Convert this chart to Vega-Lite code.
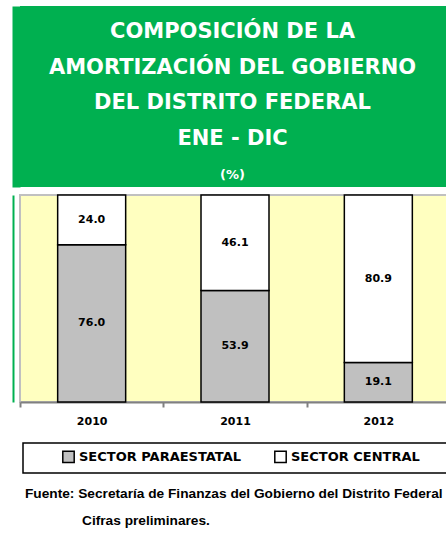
{
  "$schema": "https://vega.github.io/schema/vega-lite/v6.json",
  "padding": {"left": 12, "top": 6, "right": 0, "bottom": 0},
  "background": "white",
  "config": {"font": "DejaVu Sans", "view": {"stroke": null}, "legend": {"strokeWidth": 1.5}},
  "title": {
    "text": "Fuente: Secretaría de Finanzas del Gobierno del Distrito Federal",
    "subtitle": "\u200b\u00a0\u00a0\u00a0\u00a0\u00a0\u00a0\u00a0\u00a0\u00a0\u00a0\u00a0\u00a0\u00a0\u00a0\u00a0Cifras preliminares.",
    "orient": "bottom",
    "anchor": "start",
    "frame": "bounds",
    "dx": 13,
    "offset": 13,
    "font": "Liberation Sans",
    "fontSize": 13.7,
    "fontWeight": "bold",
    "color": "black",
    "subtitleFont": "Liberation Sans",
    "subtitleFontSize": 13.7,
    "subtitleFontWeight": "bold",
    "subtitleColor": "black",
    "subtitlePadding": 14
  },
  "spacing": 6,
  "vconcat": [
    {
      "width": 433,
      "height": 181,
      "view": {"fill": "#00B050", "stroke": null},
      "data": {
        "values": [
          {"line": 1, "text": "COMPOSICIÓN DE LA"},
          {"line": 2, "text": "AMORTIZACIÓN DEL GOBIERNO"},
          {"line": 3, "text": "DEL DISTRITO FEDERAL"},
          {"line": 4, "text": "ENE - DIC"},
          {"line": 5, "text": "(%)"}
        ]
      },
      "encoding": {
        "y": {
          "field": "line", "type": "ordinal",
          "scale": {"type": "point", "padding": 0.531, "align": 0.684},
          "axis": {"title": null, "labels": false, "ticks": false, "grid": false, "domain": true, "domainColor": "#00B050", "domainWidth": 8, "offset": 4}
        },
        "text": {"field": "text", "type": "nominal"}
      },
      "layer": [
        {
          "transform": [{"filter": {"field": "line", "lt": 5}}],
          "mark": {"type": "text", "font": "DejaVu Sans", "fontWeight": "bold", "fontSize": 21, "color": "white", "baseline": "middle", "align": "center", "dx": -4}
        },
        {
          "transform": [{"filter": {"field": "line", "equal": 5}}],
          "mark": {"type": "text", "font": "DejaVu Sans", "fontWeight": "bold", "fontSize": 13, "color": "white", "baseline": "middle", "align": "center", "dx": -4}
        }
      ]
    },
    {
      "width": 430,
      "height": 207,
      "view": {"fill": "#FFFFC0", "stroke": "#C0C0C0", "strokeWidth": 2},
      "data": {
        "values": [
          {"year": "2010", "sector": "SECTOR PARAESTATAL", "value": 76.0},
          {"year": "2010", "sector": "SECTOR CENTRAL", "value": 24.0},
          {"year": "2011", "sector": "SECTOR PARAESTATAL", "value": 53.9},
          {"year": "2011", "sector": "SECTOR CENTRAL", "value": 46.1},
          {"year": "2012", "sector": "SECTOR PARAESTATAL", "value": 19.1},
          {"year": "2012", "sector": "SECTOR CENTRAL", "value": 80.9}
        ]
      },
      "encoding": {
        "x": {
          "field": "year", "type": "nominal",
          "scale": {"paddingInner": 0, "paddingOuter": 0},
          "axis": {
            "title": null, "labelAngle": 0, "labelFont": "DejaVu Sans", "labelFontWeight": "bold", "labelFontSize": 11, "labelColor": "black",
            "domainColor": "#808080", "domainWidth": 2, "tickColor": "#808080", "tickWidth": 2, "tickSize": 5, "tickBand": "extent", "labelPadding": 8
          }
        },
        "order": {"field": "sector", "sort": "descending"}
      },
      "layer": [
        {
          "mark": {"type": "bar", "size": 68, "stroke": "black", "strokeWidth": 1.5},
          "encoding": {
            "y": {
              "field": "value", "type": "quantitative", "stack": "zero",
              "scale": {"domain": [0, 100], "nice": false},
              "axis": {"title": null, "labels": false, "ticks": false, "grid": false, "domainColor": "#00B050", "domainWidth": 2, "offset": 7}
            },
            "color": {
              "field": "sector", "type": "nominal",
              "scale": {"domain": ["SECTOR PARAESTATAL", "SECTOR CENTRAL"], "range": ["#C0C0C0", "#FFFFFF"]},
              "legend": {
                "orient": "none", "legendX": 3, "legendY": 437, "direction": "horizontal",
                "title": "\u200b\u00a0", "titleOrient": "right", "titlePadding": 40, "titleFontSize": 13,
                "strokeColor": "black", "padding": 7,
                "symbolType": "square", "symbolSize": 130, "symbolStrokeColor": "black", "symbolStrokeWidth": 1.5, "symbolOffset": 32, "symbolOpacity": 1,
                "labelFont": "DejaVu Sans", "labelFontWeight": "bold", "labelFontSize": 13, "labelColor": "black", "labelOffset": 4, "labelLimit": 300,
                "columnPadding": 0, "gridAlign": "all", "columns": 2
              }
            }
          }
        },
        {
          "mark": {"type": "text", "font": "DejaVu Sans", "fontWeight": "bold", "fontSize": 11, "color": "black", "baseline": "middle", "align": "center"},
          "encoding": {
            "y": {
              "field": "value", "type": "quantitative", "stack": "zero", "bandPosition": 0.5,
              "axis": {"title": null, "labels": false, "ticks": false, "grid": false, "domainColor": "#00B050", "domainWidth": 2, "offset": 7}
            },
            "text": {"field": "value", "type": "quantitative", "format": ".1f"}
          }
        }
      ]
    }
  ]
}
